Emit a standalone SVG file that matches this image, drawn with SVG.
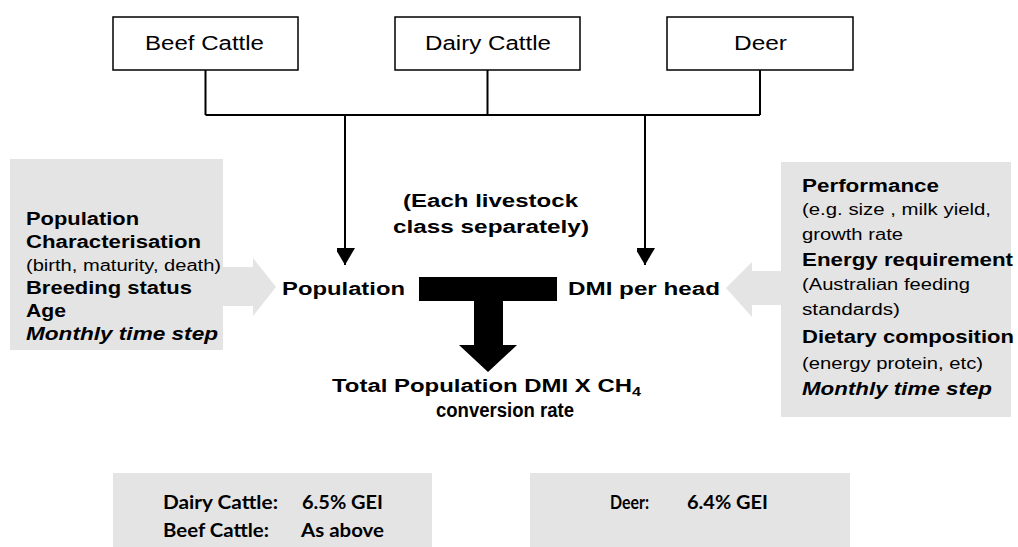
<svg xmlns="http://www.w3.org/2000/svg" width="1018" height="547" viewBox="0 0 1018 547">
<defs>
<style>
.box{fill:#fff;stroke:#000;stroke-width:1.5}
.gray{fill:#e4e4e4}
.lbl{font-family:"Liberation Sans",Arial,sans-serif;font-size:20px;fill:#000}
.b{font-family:"Liberation Sans",Arial,sans-serif;font-weight:bold;font-size:17.5px;fill:#000}
.r{font-family:"Liberation Sans",Arial,sans-serif;font-size:16px;fill:#000}
.bi{font-family:"Liberation Sans",Arial,sans-serif;font-weight:bold;font-style:italic;font-size:17.5px;fill:#000}
.c{font-family:Lato,"Open Sans",sans-serif;font-weight:bold;font-size:18px;fill:#000}
.line{fill:none;stroke:#000;stroke-width:2}
</style>
<marker id="ah" markerUnits="userSpaceOnUse" markerWidth="22" markerHeight="18" refX="17" refY="10" orient="auto">
<path d="M0,0 L17,10 L0,20 Z" fill="#000"/>
</marker>
</defs>
<rect width="1018" height="547" fill="#fff"/>

<g id="beef-cattle">
<rect class="box" x="113" y="17" width="185" height="53"/>
<text class="lbl" x="145" y="50" textLength="119" lengthAdjust="spacingAndGlyphs">Beef Cattle</text>
</g>
<g id="dairy-cattle">
<rect class="box" x="395" y="17" width="185" height="53"/>
<text class="lbl" x="425" y="50" textLength="126" lengthAdjust="spacingAndGlyphs">Dairy Cattle</text>
</g>
<g id="deer">
<rect class="box" x="667" y="17" width="186" height="53"/>
<text class="lbl" x="734" y="50" textLength="53" lengthAdjust="spacingAndGlyphs">Deer</text>
</g>

<g id="connectors">
<path class="line" d="M205.5,70 V115 M487.5,70 V115 M760,70 V115 M205.5,115 H760"/>
<path class="line" d="M345,115 V265" marker-end="url(#ah)"/>
<path class="line" d="M645,115 V265" marker-end="url(#ah)"/>
<polygon class="gray" points="223,267 253,267 253,258 276,287 253,316 253,306 223,306"/>
<polygon class="gray" points="781,271 752,271 752,262 726,288 752,317 752,305 781,305"/>
<polygon fill="#000" points="419,277 557,277 557,301 503,301 503,345 517,345 488,372 459,345 474,345 474,301 419,301"/>
</g>

<g id="population-inputs">
<rect class="gray" x="10" y="159" width="213" height="191"/>
<text class="b" x="26" y="225" textLength="113" lengthAdjust="spacingAndGlyphs">Population</text>
<text class="b" x="26" y="248" textLength="175" lengthAdjust="spacingAndGlyphs">Characterisation</text>
<text class="r" x="26" y="271" textLength="195" lengthAdjust="spacingAndGlyphs">(birth, maturity, death)</text>
<text class="b" x="26" y="294" textLength="166" lengthAdjust="spacingAndGlyphs">Breeding status</text>
<text class="b" x="26" y="317" textLength="40" lengthAdjust="spacingAndGlyphs">Age</text>
<text class="bi" x="26" y="340" textLength="192" lengthAdjust="spacingAndGlyphs">Monthly time step</text>
</g>

<g id="dmi-inputs">
<rect class="gray" x="781" y="162" width="230" height="255"/>
<text class="b" x="802" y="192" textLength="137" lengthAdjust="spacingAndGlyphs">Performance</text>
<text class="r" x="802" y="215" textLength="189" lengthAdjust="spacingAndGlyphs">(e.g. size , milk yield,</text>
<text class="r" x="802" y="240" textLength="101" lengthAdjust="spacingAndGlyphs">growth rate</text>
<text class="b" x="802" y="266" textLength="211" lengthAdjust="spacingAndGlyphs">Energy requirement</text>
<text class="r" x="802" y="290" textLength="168" lengthAdjust="spacingAndGlyphs">(Australian feeding</text>
<text class="r" x="802" y="315" textLength="98" lengthAdjust="spacingAndGlyphs">standards)</text>
<text class="b" x="802" y="343" textLength="212" lengthAdjust="spacingAndGlyphs">Dietary composition</text>
<text class="r" x="802" y="369" textLength="181" lengthAdjust="spacingAndGlyphs">(energy protein, etc)</text>
<text class="bi" x="802" y="395" textLength="190" lengthAdjust="spacingAndGlyphs">Monthly time step</text>
</g>

<g id="each-class">
<text class="b" x="403" y="207" textLength="175" lengthAdjust="spacingAndGlyphs">(Each livestock</text>
<text class="b" x="393" y="233" textLength="196" lengthAdjust="spacingAndGlyphs">class separately)</text>
</g>

<g id="population">
<text class="b" x="282" y="295" textLength="123" lengthAdjust="spacingAndGlyphs">Population</text>
</g>
<g id="dmi-per-head">
<text class="b" x="568" y="295" textLength="152" lengthAdjust="spacingAndGlyphs">DMI per head</text>
</g>

<g id="total">
<text class="b" x="332" y="392" textLength="300" lengthAdjust="spacingAndGlyphs">Total Population DMI X CH</text>
<text class="b" x="632" y="396" style="font-size:12px" textLength="9" lengthAdjust="spacingAndGlyphs">4</text>
<text class="b" x="436" y="417" style="font-size:20px" textLength="138" lengthAdjust="spacingAndGlyphs">conversion rate</text>
</g>

<g id="cattle-rates">
<rect class="gray" x="113" y="473" width="319" height="74"/>
<text class="c" x="163" y="509" textLength="115" lengthAdjust="spacingAndGlyphs">Dairy Cattle:</text>
<text class="c" x="302" y="509" textLength="81" lengthAdjust="spacingAndGlyphs">6.5% GEI</text>
<text class="c" x="163" y="537" textLength="106" lengthAdjust="spacingAndGlyphs">Beef Cattle:</text>
<text class="c" x="301" y="537" textLength="83" lengthAdjust="spacingAndGlyphs">As above</text>
</g>
<g id="deer-rate">
<rect class="gray" x="530" y="473" width="320" height="74"/>
<text class="c" x="610" y="509" textLength="39" lengthAdjust="spacingAndGlyphs">Deer:</text>
<text class="c" x="687" y="509" textLength="81" lengthAdjust="spacingAndGlyphs">6.4% GEI</text>
</g>
</svg>
